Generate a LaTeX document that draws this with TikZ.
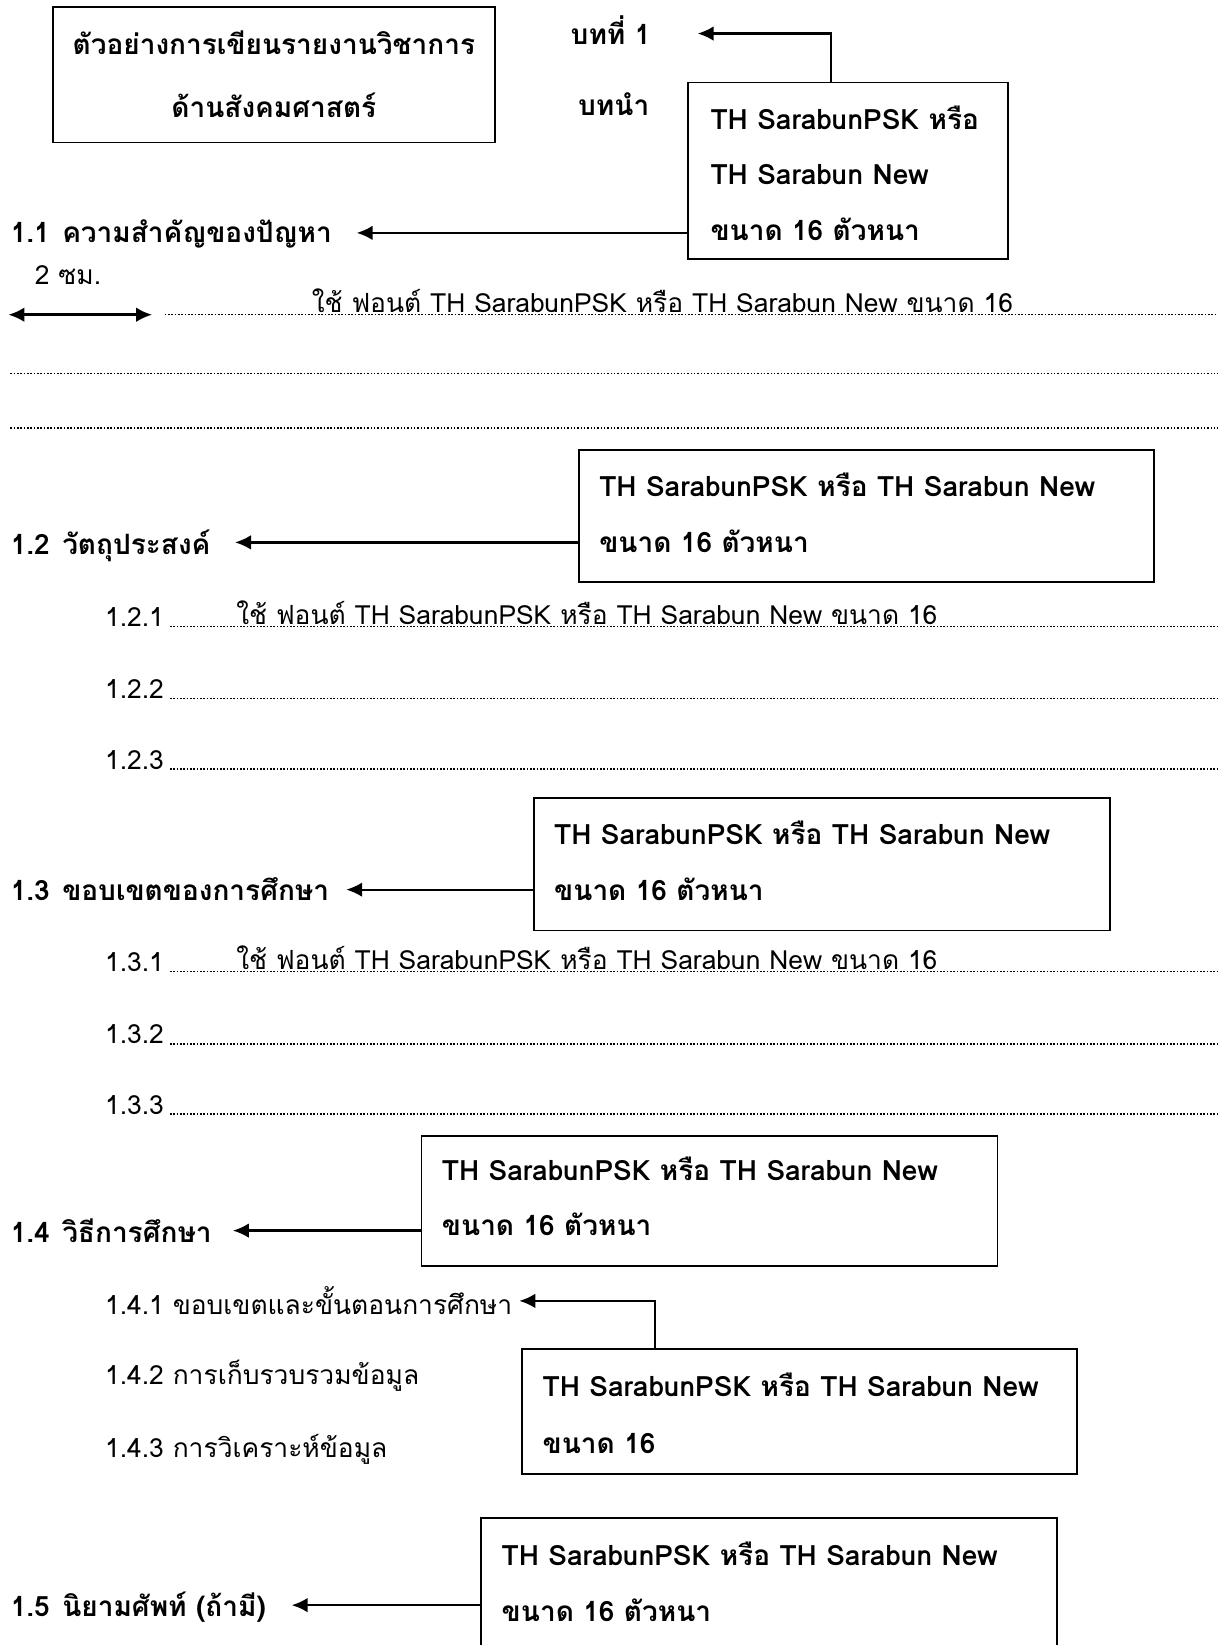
\documentclass[tikz,border=0pt]{standalone}
\usepackage{fontspec}
\setmainfont[Script=Thai]{Loma}
\usetikzlibrary{arrows.meta}
\tikzset{
  box/.style={draw, line width=1.2pt, anchor=north west, inner sep=0pt},
  txt/.style={anchor=base west, inner sep=0pt, font=\fontsize{19.8}{23}\selectfont},
  btxt/.style={txt, font=\fontsize{21}{24}\selectfont\bfseries},
  ctxt/.style={btxt, anchor=base},
  arr/.style={line width=1.7pt, -{Latex[length=12pt,width=11pt]}},
  darr/.style={line width=1.9pt, {Latex[length=12pt,width=11pt]}-{Latex[length=12pt,width=11pt]}},
  dots/.style={line width=1.1pt, dash pattern=on 1.2pt off 1.3pt}
}
\begin{document}
\begin{tikzpicture}[x=0.78682pt,y=-0.78682pt]
\useasboundingbox[fill=white] (0,0) rectangle (1161,1568);
\begin{scope}
\clip (0,0) rectangle (1161,1568);
% title box
\node[box, minimum width=421*0.78682pt, minimum height=129*0.78682pt] (title) at (50,6) {};
\node[ctxt] (t1) at (261,52) {ตัวอย่างการเขียนรายงานวิชาการ};
\node[ctxt] (t2) at (261,112) {ด้านสังคมศาสตร์};
\node[ctxt] (ch) at (582,42) {บทที่ 1};
\node[ctxt] (intro) at (585,110) {บทนำ};
% box A
\node[box, minimum width=305*0.78682pt, minimum height=168*0.78682pt] (boxA) at (655,78) {};
\node[btxt] (a1) at (677,123) {TH SarabunPSK หรือ};
\node[btxt] (a2) at (677,176) {TH Sarabun New};
\node[btxt] (a3) at (677,229) {ขนาด 16 ตัวหนา};
\coordinate (ka) at (792,32);
\coordinate (kt) at (665,32);
\draw[arr] (ka |- boxA.north) -- (ka) -- (kt);
% 1.1
\node[btxt] (h11) at (10,231) {1.1\hspace{0.45em}ความสำคัญของปัญหา};
\coordinate (p11) at (340,222);
\draw[arr] (boxA.west |- p11) -- (p11);
\node[txt] (cm) at (33,271) {2 ซม.};
\coordinate (dl) at (8,300);
\coordinate (dr) at (145,300);
\draw[darr] (dl) -- (dr);
\coordinate (l1a) at (157,300); \coordinate (l1b) at (1161,300);
\draw[dots] (l1a) -- (l1b);
\node[txt] (u1) at (297,298) {ใช้ ฟอนต์ TH SarabunPSK หรือ TH Sarabun New ขนาด 16};
\coordinate (l2a) at (10,356); \coordinate (l2b) at (1161,356);
\draw[dots] (l2a) -- (l2b);
\coordinate (l3a) at (10,408); \coordinate (l3b) at (1161,408);
\draw[dots] (l3a) -- (l3b);
% box B / 1.2
\node[box, minimum width=548*0.78682pt, minimum height=126*0.78682pt] (boxB) at (551,428) {};
\node[btxt] (b1) at (571,473) {TH SarabunPSK หรือ TH Sarabun New};
\node[btxt] (b2) at (571,527) {ขนาด 16 ตัวหนา};
\node[btxt] (h12) at (10,529) {1.2\hspace{0.45em}วัตถุประสงค์};
\coordinate (p12) at (224,517);
\draw[arr] (boxB.west |- p12) -- (p12);
\node[txt] (n121) at (100,597) {1.2.1};
\node[txt] (n122) at (100,666) {1.2.2};
\node[txt] (n123) at (100,733) {1.2.3};
\coordinate (d121a) at (162,597); \coordinate (d121b) at (1161,597);
\coordinate (d122a) at (162,666); \coordinate (d122b) at (1161,666);
\coordinate (d123a) at (162,733); \coordinate (d123b) at (1161,733);
\draw[dots] (d121a) -- (d121b);
\draw[dots] (d122a) -- (d122b);
\draw[dots] (d123a) -- (d123b);
\node[txt] (u2) at (225,595) {ใช้ ฟอนต์ TH SarabunPSK หรือ TH Sarabun New ขนาด 16};
% box C / 1.3
\node[box, minimum width=549*0.78682pt, minimum height=126*0.78682pt] (boxC) at (508,760) {};
\node[btxt] (c1) at (528,805) {TH SarabunPSK หรือ TH Sarabun New};
\node[btxt] (c2) at (528,858) {ขนาด 16 ตัวหนา};
\node[btxt] (h13) at (10,858) {1.3\hspace{0.45em}ขอบเขตของการศึกษา};
\coordinate (p13) at (330,848);
\draw[arr] (boxC.west |- p13) -- (p13);
\node[txt] (n131) at (100,926) {1.3.1};
\node[txt] (n132) at (100,995) {1.3.2};
\node[txt] (n133) at (100,1062) {1.3.3};
\coordinate (d131a) at (162,926); \coordinate (d131b) at (1161,926);
\coordinate (d132a) at (162,995); \coordinate (d132b) at (1161,995);
\coordinate (d133a) at (162,1062); \coordinate (d133b) at (1161,1062);
\draw[dots] (d131a) -- (d131b);
\draw[dots] (d132a) -- (d132b);
\draw[dots] (d133a) -- (d133b);
\node[txt] (u3) at (225,924) {ใช้ ฟอนต์ TH SarabunPSK หรือ TH Sarabun New ขนาด 16};
% box D / 1.4
\node[box, minimum width=549*0.78682pt, minimum height=124*0.78682pt] (boxD) at (401,1082) {};
\node[btxt] (e1) at (421,1125) {TH SarabunPSK หรือ TH Sarabun New};
\node[btxt] (e2) at (421,1178) {ขนาด 16 ตัวหนา};
\node[btxt] (h14) at (10,1184) {1.4\hspace{0.45em}วิธีการศึกษา};
\coordinate (p14) at (222,1173);
\draw[arr] (boxD.west |- p14) -- (p14);
\node[txt] (n141) at (100,1253) {1.4.1 ขอบเขตและขั้นตอนการศึกษา};
\node[txt] (n142) at (100,1320) {1.4.2 การเก็บรวบรวมข้อมูล};
\node[txt] (n143) at (100,1389) {1.4.3 การวิเคราะห์ข้อมูล};
% box E
\node[box, minimum width=529*0.78682pt, minimum height=119*0.78682pt] (boxE) at (497,1285) {};
\node[btxt] (f1) at (517,1331) {TH SarabunPSK หรือ TH Sarabun New};
\node[btxt] (f2) at (517,1385) {ขนาด 16};
\coordinate (ke) at (624,1240);
\coordinate (ket) at (495,1240);
\draw[arr] (ke |- boxE.north) -- (ke) -- (ket);
% box F / 1.5
\node[box, minimum width=549*0.78682pt, minimum height=160*0.78682pt] (boxF) at (458,1446) {};
\node[btxt] (g1) at (478,1492) {TH SarabunPSK หรือ TH Sarabun New};
\node[btxt] (g2) at (478,1546) {ขนาด 16 ตัวหนา};
\node[btxt] (h15) at (10,1541) {1.5\hspace{0.45em}นิยามศัพท์ (ถ้ามี)};
\coordinate (p15) at (278,1530);
\draw[arr] (boxF.west |- p15) -- (p15);
\end{scope}
\end{tikzpicture}
\end{document}
